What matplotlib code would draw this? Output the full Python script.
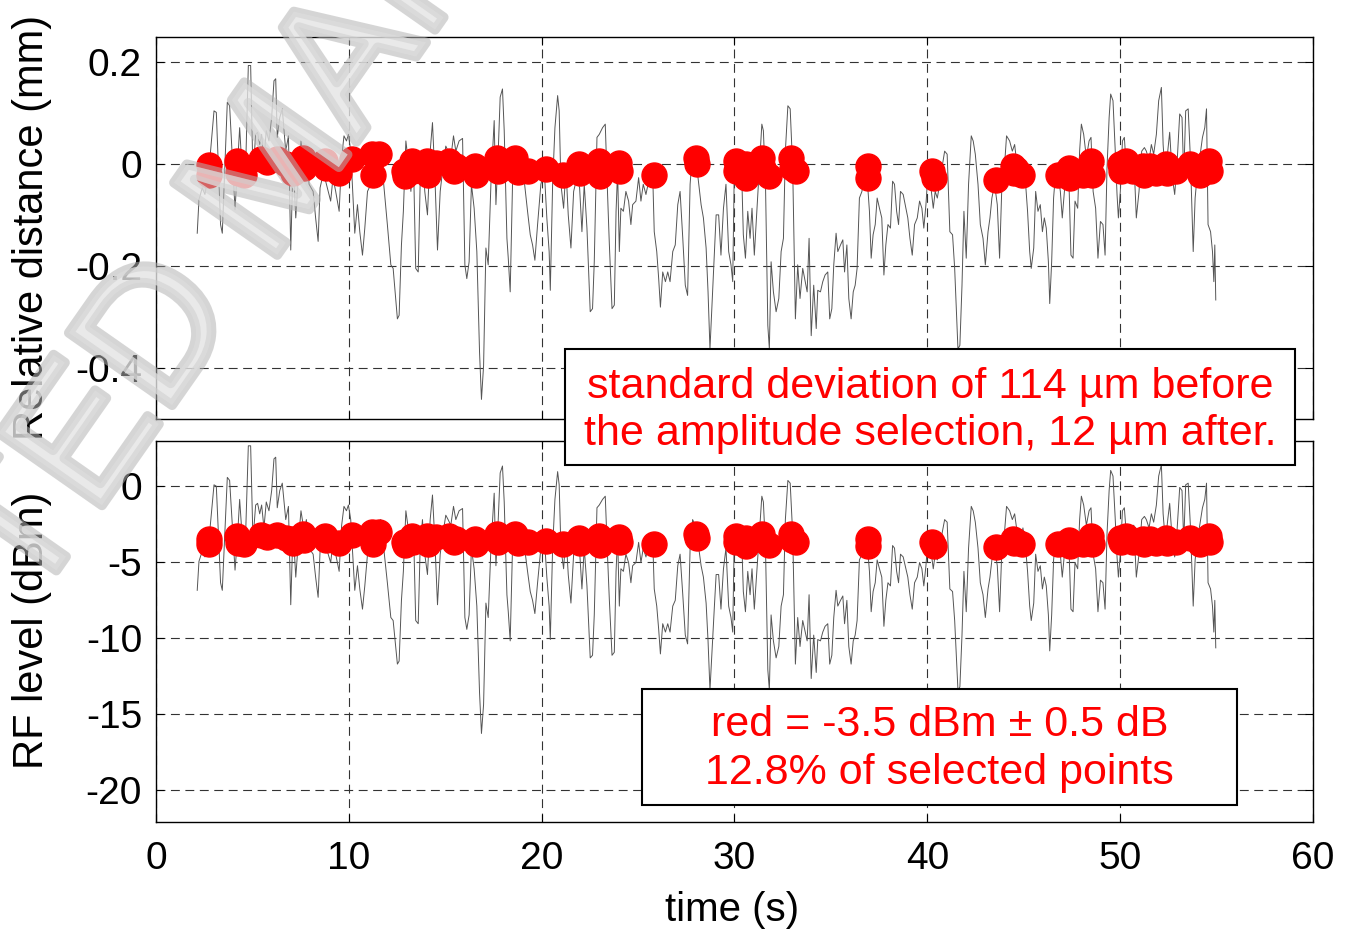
import matplotlib
matplotlib.use('Agg')
import matplotlib.pyplot as plt
from matplotlib.patches import Rectangle
import matplotlib.patheffects as pe

plt.rcParams['font.family'] = ['Liberation Sans', 'DejaVu Sans']
plt.rcParams['axes.unicode_minus'] = False

# sinal completo (tempo em s, distância em mm, nível RF em dBm)
time = [
    2.14, 2.23, 2.40, 2.54, 2.75, 3.01, 3.13, 3.35, 3.44, 3.70,
    3.82, 4.10, 4.22, 4.34, 4.51, 4.65, 4.79, 4.91, 5.03, 5.17,
    5.27, 5.38, 5.48, 5.60, 5.72, 5.86, 6.00, 6.12, 6.21, 6.29,
    6.42, 6.55, 6.73, 6.87, 6.99, 7.11, 7.25, 7.38, 7.52, 7.68,
    7.80, 7.94, 8.15, 8.28, 8.41, 8.51, 8.63, 8.80, 9.06, 9.18,
    9.32, 9.50, 9.63, 9.75, 9.88, 9.98, 10.10, 10.31, 10.45, 10.57,
    10.71, 10.83, 10.97, 11.14, 11.31, 11.48, 11.66, 11.78, 12.00, 12.18,
    12.30, 12.52, 12.61, 12.73, 12.83, 12.96, 13.08, 13.22, 13.35, 13.47,
    13.60, 13.70, 13.82, 13.94, 14.08, 14.22, 14.34, 14.46, 14.60, 14.74,
    14.86, 15.03, 15.15, 15.29, 15.43, 15.55, 15.72, 15.90, 16.02, 16.12,
    16.24, 16.36, 16.50, 16.64, 16.78, 16.88, 16.99, 17.11, 17.23, 17.37,
    17.54, 17.63, 17.75, 17.85, 17.97, 18.06, 18.20, 18.27, 18.37, 18.49,
    18.61, 18.75, 18.92, 19.10, 19.27, 19.41, 19.53, 19.65, 19.79, 19.96,
    20.14, 20.27, 20.39, 20.45, 20.57, 20.69, 20.83, 20.91, 21.00, 21.14,
    21.26, 21.38, 21.52, 21.66, 21.83, 21.97, 22.09, 22.21, 22.35, 22.52,
    22.64, 22.73, 22.87, 22.99, 23.16, 23.30, 23.42, 23.51, 23.65, 23.77,
    23.86, 23.94, 24.03, 24.11, 24.24, 24.37, 24.51, 24.63, 24.72, 24.89,
    25.03, 25.15, 25.27, 25.41, 25.55, 25.76, 25.84, 25.97, 26.07, 26.16,
    26.28, 26.42, 26.54, 26.66, 26.80, 26.93, 27.06, 27.18, 27.32, 27.45,
    27.57, 27.70, 27.83, 27.97, 28.11, 28.27, 28.39, 28.53, 28.63, 28.73,
    28.84, 28.96, 29.05, 29.18, 29.30, 29.43, 29.56, 29.70, 29.82, 29.91,
    30.00, 30.12, 30.26, 30.39, 30.46, 30.57, 30.69, 30.81, 30.91, 31.03,
    31.16, 31.29, 31.42, 31.50, 31.61, 31.73, 31.81, 31.90, 32.02, 32.16,
    32.30, 32.42, 32.54, 32.64, 32.77, 32.89, 33.02, 33.16, 33.28, 33.40,
    33.54, 33.77, 33.87, 33.98, 34.11, 34.24, 34.32, 34.46, 34.58, 34.70,
    34.84, 34.94, 35.05, 35.15, 35.27, 35.36, 35.50, 35.62, 35.71, 35.83,
    35.93, 36.05, 36.16, 36.26, 36.36, 36.48, 36.61, 36.74, 36.88, 37.00,
    37.09, 37.19, 37.30, 37.40, 37.52, 37.64, 37.75, 37.85, 37.96, 38.09,
    38.20, 38.30, 38.41, 38.51, 38.61, 38.75, 38.89, 38.99, 39.10, 39.22,
    39.34, 39.48, 39.60, 39.72, 39.82, 39.93, 40.03, 40.17, 40.31, 40.41,
    40.52, 40.64, 40.76, 40.90, 41.03, 41.17, 41.31, 41.42, 41.50, 41.59,
    41.69, 41.80, 41.90, 42.02, 42.14, 42.28, 42.38, 42.49, 42.63, 42.75,
    42.89, 43.01, 43.15, 43.25, 43.35, 43.49, 43.63, 43.75, 43.87, 44.01,
    44.11, 44.27, 44.41, 44.53, 44.65, 44.79, 44.96, 45.10, 45.20, 45.31,
    45.39, 45.52, 45.62, 45.74, 45.86, 45.97, 46.07, 46.17, 46.28, 46.35,
    46.45, 46.55, 46.66, 46.80, 46.90, 47.00, 47.11, 47.25, 47.35, 47.45,
    47.56, 47.66, 47.80, 47.90, 47.99, 48.11, 48.25, 48.39, 48.49, 48.60,
    48.73, 48.85, 48.98, 49.11, 49.22, 49.32, 49.43, 49.51, 49.63, 49.74,
    49.84, 49.91, 50.01, 50.12, 50.22, 50.33, 50.46, 50.58, 50.71, 50.84,
    50.98, 51.12, 51.26, 51.36, 51.50, 51.62, 51.74, 51.88, 52.00, 52.14,
    52.23, 52.35, 52.47, 52.57, 52.71, 52.83, 52.96, 53.09, 53.21, 53.30,
    53.40, 53.53, 53.65, 53.79, 53.89, 54.00, 54.13, 54.27, 54.39, 54.48,
    54.56, 54.69, 54.79, 54.86, 54.91, 54.96,
]

dist = [
    -0.135, -0.069, -0.046, -0.059, -0.010, 0.105, 0.102, -0.118, -0.135, 0.122,
    0.115, -0.089, -0.010, 0.072, -0.039, -0.007, 0.194, 0.194, -0.020, 0.059,
    0.063, 0.039, 0.059, 0.007, 0.066, 0.046, 0.092, 0.164, 0.168, 0.053,
    0.092, 0.109, 0.026, 0.056, -0.168, 0.007, -0.105, -0.026, 0.046, 0.000,
    0.026, -0.039, -0.053, -0.105, -0.151, -0.046, -0.026, -0.033, -0.072, -0.026,
    -0.053, -0.092, 0.013, 0.056, 0.046, 0.059, 0.026, -0.135, -0.079, -0.132,
    -0.178, -0.125, -0.053, -0.039, 0.007, 0.020, 0.026, -0.026, -0.118, -0.197,
    -0.204, -0.303, -0.296, -0.158, -0.092, 0.046, 0.007, -0.053, 0.013, -0.204,
    -0.211, -0.039, 0.026, -0.053, -0.099, 0.026, 0.082, -0.020, -0.168, -0.053,
    -0.013, 0.036, 0.026, 0.013, 0.056, 0.026, 0.046, 0.051, -0.197, -0.224,
    -0.191, -0.039, -0.086, -0.171, -0.368, -0.461, -0.395, -0.164, -0.197, -0.039,
    0.086, -0.079, 0.026, 0.132, 0.148, 0.066, -0.145, -0.184, -0.250, -0.039,
    0.007, 0.013, 0.000, -0.033, -0.092, -0.138, -0.158, -0.188, -0.118, -0.039,
    -0.013, -0.105, -0.171, -0.247, -0.039, 0.072, 0.135, 0.105, -0.039, -0.086,
    -0.007, -0.099, -0.164, -0.053, -0.026, -0.046, -0.132, -0.039, -0.125, -0.289,
    -0.283, -0.191, 0.053, 0.059, 0.072, 0.079, -0.059, -0.155, -0.283, -0.276,
    -0.092, -0.013, -0.171, -0.086, -0.092, -0.053, -0.072, -0.118, -0.079, -0.072,
    -0.026, -0.072, -0.039, -0.059, -0.033, -0.020, -0.132, -0.171, -0.224, -0.280,
    -0.211, -0.230, -0.211, -0.230, -0.171, -0.158, -0.079, -0.053, -0.145, -0.237,
    -0.257, -0.039, 0.026, 0.013, -0.026, -0.079, -0.105, -0.164, -0.250, -0.362,
    -0.270, -0.171, -0.099, -0.099, -0.178, -0.086, -0.039, -0.171, -0.197, -0.230,
    0.013, 0.007, 0.000, -0.039, -0.138, -0.184, -0.092, -0.145, -0.086, -0.178,
    -0.092, -0.007, 0.079, 0.066, -0.039, -0.316, -0.362, -0.191, -0.250, -0.289,
    -0.263, -0.171, -0.145, 0.026, 0.115, 0.109, -0.007, -0.303, -0.197, -0.263,
    -0.204, -0.250, -0.145, -0.336, -0.237, -0.322, -0.247, -0.250, -0.230, -0.217,
    -0.211, -0.303, -0.283, -0.197, -0.135, -0.171, -0.158, -0.148, -0.211, -0.158,
    -0.263, -0.303, -0.250, -0.237, -0.204, -0.066, -0.053, -0.020, -0.026, -0.092,
    -0.184, -0.138, -0.118, -0.066, -0.086, -0.105, -0.217, -0.158, -0.118, -0.125,
    -0.033, -0.039, -0.092, -0.118, -0.053, -0.059, -0.086, -0.105, -0.145, -0.178,
    -0.118, -0.105, -0.072, -0.086, -0.125, -0.079, -0.020, -0.039, -0.086, -0.053,
    -0.066, -0.039, -0.007, 0.026, 0.020, -0.132, -0.138, -0.204, -0.276, -0.362,
    -0.355, -0.237, -0.092, -0.184, -0.039, 0.056, 0.046, 0.020, -0.039, -0.118,
    -0.145, -0.197, -0.132, -0.105, -0.066, -0.039, -0.079, -0.184, -0.039, 0.000,
    0.056, 0.046, 0.026, 0.039, 0.000, -0.039, 0.007, -0.039, -0.092, -0.171,
    -0.204, -0.164, -0.053, -0.092, -0.079, -0.132, -0.105, -0.125, -0.191, -0.273,
    -0.191, -0.066, -0.013, -0.026, -0.053, -0.105, -0.053, -0.007, -0.039, -0.178,
    -0.184, -0.072, -0.086, 0.026, 0.079, 0.059, 0.013, 0.046, 0.053, -0.053,
    -0.086, -0.184, -0.112, -0.118, -0.178, -0.007, 0.092, 0.138, 0.125, 0.033,
    -0.059, -0.105, -0.053, 0.046, 0.053, -0.013, -0.026, 0.007, 0.013, -0.105,
    -0.053, 0.026, 0.033, 0.026, 0.007, 0.039, 0.020, 0.059, 0.125, 0.151,
    0.039, -0.026, 0.026, 0.063, -0.026, -0.059, 0.007, 0.099, 0.092, -0.026,
    0.105, 0.109, 0.007, -0.171, -0.066, -0.020, 0.013, 0.053, 0.072, 0.109,
    -0.118, -0.132, -0.171, -0.230, -0.158, -0.266,
]

rf = [
    -6.84, -4.93, -4.26, -4.64, -3.50, 0.11, 0.02, -6.34, -6.84, 0.60,
    0.40, -5.51, -3.50, -0.85, -4.06, -3.13, 2.68, 2.68, -3.51, -1.22,
    -1.11, -1.80, -1.22, -2.73, -1.02, -1.60, -0.27, 1.82, 1.93, -1.40,
    -0.27, 0.22, -2.18, -1.31, -7.79, -2.73, -5.97, -3.68, -1.60, -2.93,
    -2.18, -4.06, -4.46, -5.97, -7.30, -4.26, -3.68, -3.89, -5.01, -3.68,
    -4.46, -5.59, -2.55, -1.31, -1.60, -1.22, -2.18, -6.84, -5.22, -6.75,
    -8.08, -6.55, -4.46, -4.06, -2.73, -2.35, -2.18, -3.68, -6.34, -8.63,
    -8.83, -11.70, -11.50, -7.50, -5.59, -1.60, -2.73, -4.46, -2.55, -8.83,
    -9.04, -4.06, -2.18, -4.46, -5.80, -2.18, -0.56, -3.51, -7.79, -4.46,
    -3.31, -1.89, -2.18, -2.55, -1.31, -2.18, -1.60, -1.45, -8.63, -9.41,
    -8.46, -4.06, -5.42, -7.88, -13.58, -16.27, -14.36, -7.68, -8.63, -4.06,
    -0.44, -5.22, -2.18, 0.89, 1.35, -1.02, -7.13, -8.25, -10.17, -4.06,
    -2.73, -2.55, -2.93, -3.89, -5.59, -6.92, -7.50, -8.37, -6.34, -4.06,
    -3.31, -5.97, -7.88, -10.08, -4.06, -0.85, 0.98, 0.11, -4.06, -5.42,
    -3.13, -5.80, -7.68, -4.46, -3.68, -4.26, -6.75, -4.06, -6.55, -11.29,
    -11.12, -8.46, -1.40, -1.22, -0.85, -0.64, -4.64, -7.42, -11.12, -10.92,
    -5.59, -3.31, -7.88, -5.42, -5.59, -4.46, -5.01, -6.34, -5.22, -5.01,
    -3.68, -5.01, -4.06, -4.64, -3.89, -3.51, -6.75, -7.88, -9.41, -11.03,
    -9.04, -9.59, -9.04, -9.59, -7.88, -7.50, -5.22, -4.46, -7.13, -9.79,
    -10.37, -4.06, -2.18, -2.55, -3.68, -5.22, -5.97, -7.68, -10.17, -13.41,
    -10.74, -7.88, -5.80, -5.80, -8.08, -5.42, -4.06, -7.88, -8.63, -9.59,
    -2.55, -2.73, -2.93, -4.06, -6.92, -8.25, -5.59, -7.13, -5.42, -8.08,
    -5.59, -3.13, -0.64, -1.02, -4.06, -12.08, -13.41, -8.46, -10.17, -11.29,
    -10.54, -7.88, -7.13, -2.18, 0.40, 0.22, -3.13, -11.70, -8.63, -10.54,
    -8.83, -10.17, -7.13, -12.65, -9.79, -12.25, -10.08, -10.17, -9.59, -9.21,
    -9.04, -11.70, -11.12, -8.63, -6.84, -7.88, -7.50, -7.21, -9.04, -7.50,
    -10.54, -11.70, -10.17, -9.79, -8.83, -4.84, -4.46, -3.51, -3.68, -5.59,
    -8.25, -6.92, -6.34, -4.84, -5.42, -5.97, -9.21, -7.50, -6.34, -6.55,
    -3.89, -4.06, -5.59, -6.34, -4.46, -4.64, -5.42, -5.97, -7.13, -8.08,
    -6.34, -5.97, -5.01, -5.42, -6.55, -5.22, -3.51, -4.06, -5.42, -4.46,
    -4.84, -4.06, -3.13, -2.18, -2.35, -6.75, -6.92, -8.83, -10.92, -13.41,
    -13.20, -9.79, -5.59, -8.25, -4.06, -1.31, -1.60, -2.35, -4.06, -6.34,
    -7.13, -8.63, -6.75, -5.97, -4.84, -4.06, -5.22, -8.25, -4.06, -2.93,
    -1.31, -1.60, -2.18, -1.80, -2.93, -4.06, -2.73, -4.06, -5.59, -7.88,
    -8.83, -7.68, -4.46, -5.59, -5.22, -6.75, -5.97, -6.55, -8.46, -10.83,
    -8.46, -4.84, -3.31, -3.68, -4.46, -5.97, -4.46, -3.13, -4.06, -8.08,
    -8.25, -5.01, -5.42, -2.18, -0.64, -1.22, -2.55, -1.60, -1.40, -4.46,
    -5.42, -8.25, -6.17, -6.34, -8.08, -3.13, -0.27, 1.06, 0.69, -1.97,
    -4.64, -5.97, -4.46, -1.60, -1.40, -3.31, -3.68, -2.73, -2.55, -5.97,
    -4.46, -2.18, -1.97, -2.18, -2.73, -1.80, -2.35, -1.22, 0.69, 1.44,
    -1.80, -3.68, -2.18, -1.11, -3.68, -4.64, -2.73, -0.06, -0.27, -3.68,
    0.11, 0.22, -2.73, -7.88, -4.84, -3.51, -2.55, -1.40, -0.85, 0.22,
    -6.34, -6.75, -7.88, -9.59, -7.50, -10.63,
]

# pontos selecionados (-3.5 dBm +- 0.5 dB)
sel_time = [
    2.75, 2.76, 4.20, 4.24, 4.56, 5.43, 5.78, 6.29, 6.73, 7.05,
    7.10, 7.64, 7.70, 8.78, 8.82, 9.50, 10.19, 11.20, 11.25, 11.57,
    12.85, 12.89, 13.28, 13.32, 14.05, 14.10, 14.51, 15.20, 15.45, 15.55,
    16.57, 16.62, 17.69, 17.73, 18.64, 18.70, 18.75, 19.27, 20.22, 21.09,
    21.93, 21.97, 22.97, 23.01, 23.16, 24.00, 24.06, 25.84, 27.99, 28.05,
    30.06, 30.10, 30.58, 30.62, 31.45, 31.49, 31.81, 32.92, 32.96, 33.20,
    36.92, 36.93, 40.25, 40.33, 43.58, 44.44, 44.48, 44.60, 44.90, 46.78,
    47.35, 47.40, 48.08, 48.48, 48.53, 49.98, 50.05, 50.33, 50.67, 51.19,
    51.22, 51.54, 51.88, 52.38, 52.42, 52.92, 53.61, 54.13, 54.62, 54.68,
]
sel_dist = [
    -0.002, -0.020, 0.007, -0.017, -0.020, 0.010, 0.005, 0.010, 0.000, -0.003,
    -0.017, 0.013, -0.007, 0.007, -0.007, -0.017, 0.010, 0.020, -0.020, 0.020,
    -0.013, -0.023, 0.007, -0.013, 0.007, -0.020, 0.003, 0.007, -0.013, -0.003,
    -0.003, -0.020, 0.013, -0.013, 0.013, -0.010, -0.015, -0.013, -0.010, -0.020,
    0.000, -0.017, 0.007, -0.023, -0.005, 0.003, -0.013, -0.020, 0.013, 0.000,
    0.007, -0.013, 0.000, -0.026, 0.013, -0.007, -0.023, 0.013, -0.007, -0.013,
    -0.003, -0.026, -0.013, -0.026, -0.030, -0.003, -0.017, -0.010, -0.020, -0.020,
    -0.007, -0.026, -0.020, 0.007, -0.020, 0.000, -0.013, 0.007, -0.013, -0.003,
    -0.020, -0.003, -0.017, 0.000, -0.017, -0.013, 0.000, -0.020, 0.007, -0.013,
]
sel_rf = [
    -3.44, -3.78, -3.27, -3.72, -3.78, -3.21, -3.31, -3.21, -3.40, -3.46,
    -3.72, -3.15, -3.53, -3.27, -3.53, -3.72, -3.21, -3.02, -3.78, -3.02,
    -3.65, -3.84, -3.27, -3.65, -3.27, -3.78, -3.34, -3.27, -3.65, -3.46,
    -3.46, -3.78, -3.15, -3.65, -3.15, -3.59, -3.69, -3.65, -3.59, -3.78,
    -3.40, -3.72, -3.27, -3.84, -3.50, -3.34, -3.65, -3.78, -3.15, -3.40,
    -3.27, -3.65, -3.40, -3.89, -3.15, -3.53, -3.84, -3.15, -3.53, -3.65,
    -3.46, -3.89, -3.65, -3.89, -3.97, -3.46, -3.72, -3.59, -3.78, -3.78,
    -3.53, -3.89, -3.78, -3.27, -3.78, -3.40, -3.65, -3.27, -3.65, -3.46,
    -3.78, -3.46, -3.72, -3.40, -3.72, -3.65, -3.40, -3.78, -3.27, -3.65,
]

x_ticks = [0, 10, 20, 30, 40, 50, 60]
dist_ticks = [-0.4, -0.2, 0, 0.2]
dist_labels = ['-0.4', '-0.2', '0', '0.2']
rf_ticks = [-20, -15, -10, -5, 0]
rf_labels = ['-20', '-15', '-10', '-5', '0']

fig = plt.figure(figsize=(13.48, 9.38), dpi=100)
ax1 = fig.add_axes([0.1157, 0.553, 0.8583, 0.4076])
ax2 = fig.add_axes([0.1157, 0.1237, 0.8583, 0.4062])

for ax, y, ysel in [(ax1, dist, sel_dist), (ax2, rf, sel_rf)]:
    ax.plot(time, y, color='#555555', lw=0.7, zorder=2)
    ax.plot(sel_time, ysel, 'o', color='red', ms=18, zorder=3)
    ax.set_xlim(0, 60)
    ax.set_xticks(x_ticks)
    ax.grid(True, color='#333333', linestyle=(0, (8, 5)), lw=0.8)
    ax.tick_params(direction='in', length=6, top=True, right=True,
                   labelsize=28, pad=10)
    ax.tick_params(axis='x', pad=14)
    for s in ax.spines.values():
        s.set_linewidth(1.0)

ax1.set_ylim(-0.5, 0.25)
ax1.set_yticks(dist_ticks)
ax1.set_yticklabels(dist_labels)
ax1.tick_params(labelbottom=False)

ax2.set_ylim(-22.1, 3.0)
ax2.set_yticks(rf_ticks)
ax2.set_yticklabels(rf_labels)

fig.text(0.0237, 0.757, 'Relative distance (mm)', rotation=90,
         ha='center', va='center', fontsize=30)
fig.text(0.0237, 0.3284, 'RF level (dBm)', rotation=90,
         ha='center', va='center', fontsize=30)
fig.text(0.543, 0.030, 'time (s)', ha='center', va='center', fontsize=29)

# caixas de texto
fig.add_artist(Rectangle((0.4191, 0.5043), 0.5415, 0.1237, transform=fig.transFigure,
                         fc='white', ec='black', lw=1.5, zorder=5))
fig.text(0.6899, 0.562, 'standard deviation of 114 µm before\nthe amplitude selection, 12 µm after.',
         ha='center', va='center', multialignment='center', fontsize=31,
         color='red', linespacing=1.22, zorder=6)

fig.add_artist(Rectangle((0.4763, 0.1418), 0.4414, 0.1237, transform=fig.transFigure,
                         fc='white', ec='black', lw=1.5, zorder=5))
fig.text(0.697, 0.2015, 'red = -3.5 dBm ± 0.5 dB\n12.8% of selected points',
         ha='center', va='center', multialignment='center', fontsize=31,
         color='red', linespacing=1.27, zorder=6)

# marca d'água
fig.text(0.205, 0.815, 'ACCEPTED MANUSCRIPT', rotation=55, ha='center', va='center',
         fontsize=132, color='#e4e4e4', alpha=0.55, zorder=10,
         path_effects=[pe.withStroke(linewidth=7, foreground='#b4b4b4', alpha=0.55)])

plt.savefig('out.png', dpi=100)
